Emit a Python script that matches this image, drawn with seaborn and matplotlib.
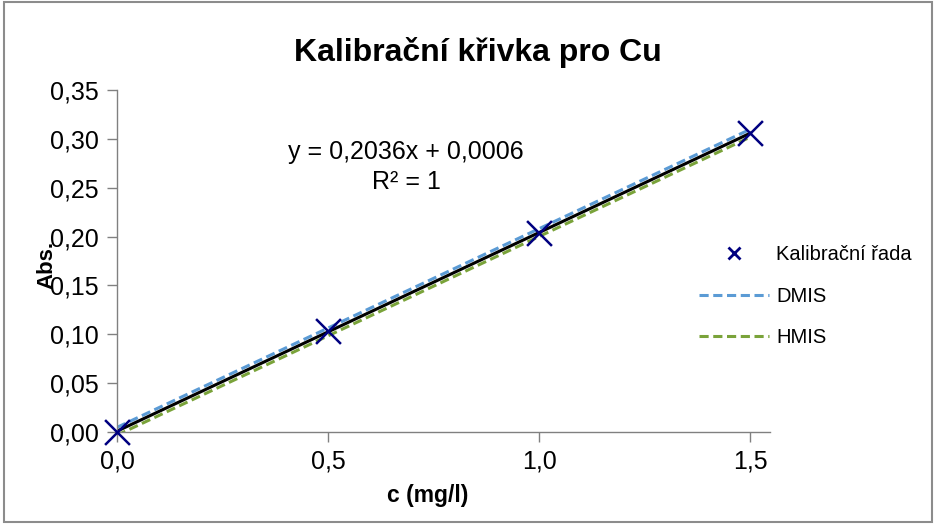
import matplotlib
matplotlib.use("Agg")
import matplotlib.pyplot as plt
import seaborn as sns
import numpy as np
import pandas as pd
from matplotlib.lines import Line2D
from matplotlib.patches import Rectangle

# Data
conc = [0.0, 0.5, 1.0, 1.5]
absorb = [0.0, 0.103, 0.204, 0.306]
line_x = [0.0, 1.5]
trend_y = [0.0006, 0.3060]
dmis_y = [0.0045, 0.3100]
hmis_y = [-0.0035, 0.3020]
xticks = [0.0, 0.5, 1.0, 1.5]
yticks = [0.00, 0.05, 0.10, 0.15, 0.20, 0.25, 0.30, 0.35]

sns.set_theme(style="white")
plt.rcParams['font.family'] = ['Liberation Sans', 'DejaVu Sans']
plt.rcParams['text.color'] = 'black'

fig = plt.figure(figsize=(9.36, 5.24), dpi=100)
ax = fig.add_axes([0.125, 0.176, 0.698, 0.652])

pts = pd.DataFrame({"c": conc, "A": absorb})
lines = pd.DataFrame({"x": line_x * 3,
                      "y": dmis_y + hmis_y + trend_y,
                      "s": ["DMIS"] * 2 + ["HMIS"] * 2 + ["trend"] * 2})

sns.lineplot(data=lines[lines.s == "DMIS"], x="x", y="y", ax=ax, color="#5b9bd5",
             linestyle=(0, (3, 1.5)), linewidth=2.2, legend=False)
sns.lineplot(data=lines[lines.s == "HMIS"], x="x", y="y", ax=ax, color="#7aa33a",
             linestyle=(0, (3, 1.5)), linewidth=2.2, legend=False)
sns.lineplot(data=lines[lines.s == "trend"], x="x", y="y", ax=ax, color="black",
             linewidth=2.2, legend=False)
sns.scatterplot(data=pts, x="c", y="A", ax=ax, marker="x", s=320, color="#000080",
                linewidth=1.8, zorder=5, legend=False, clip_on=False)

ax.set_xlim(0, 1.547)
ax.set_ylim(0, 0.35)
ax.set_xticks(xticks)
ax.set_yticks(yticks)
ax.set_xticklabels([f"{v:.1f}".replace(".", ",") for v in xticks], fontsize=18)
ax.set_yticklabels([f"{v:.2f}".replace(".", ",") for v in yticks], fontsize=18)
for s in ["top", "right"]:
    ax.spines[s].set_visible(False)
for s in ["left", "bottom"]:
    ax.spines[s].set_color("#808080")
    ax.spines[s].set_linewidth(1.0)
ax.tick_params(axis="both", direction="out", length=7, color="#808080", width=1.0,
               pad=6, labelcolor="black", left=True, bottom=True)
ax.set_xlabel("")
ax.set_ylabel("")
fig.text(0.457, 0.054, "c (mg/l)", fontsize=16.5, fontweight="bold",
         ha="center", va="center", color="black")
fig.text(0.050, 0.495, "Abs.", rotation=90, fontsize=16, fontweight="bold",
         ha="center", va="center", color="black")

fig.text(0.511, 0.9, "Kalibrační křivka pro Cu", fontsize=23, fontweight="bold",
         ha="center", va="center", color="black")

fig.text(0.434, 0.71, "y = 0,2036x + 0,0006", fontsize=18, ha="center", va="center",
         color="black")
fig.text(0.434, 0.653, "R² = 1", fontsize=18, ha="center", va="center", color="black")

handles = [
    Line2D([], [], marker="x", linestyle="none", color="#000080", markersize=8,
           markeredgewidth=2),
    Line2D([], [], color="#5b9bd5", linestyle=(0, (3, 1.5)), linewidth=2.2),
    Line2D([], [], color="#7aa33a", linestyle=(0, (3, 1.5)), linewidth=2.2),
]
leg = fig.legend(handles, ["Kalibrační řada", "DMIS", "HMIS"], loc="center left",
                 bbox_to_anchor=(0.727, 0.435), frameon=False, fontsize=14.5,
                 handlelength=3.5, labelspacing=1.1, handletextpad=0.35)
for t in leg.get_texts():
    t.set_color("black")

fig.add_artist(Rectangle((0.004, 0.004), 0.992, 0.992, transform=fig.transFigure,
                         fill=False, edgecolor="#8c8c8c", linewidth=1.5))

fig.savefig("out.png", dpi=100)
